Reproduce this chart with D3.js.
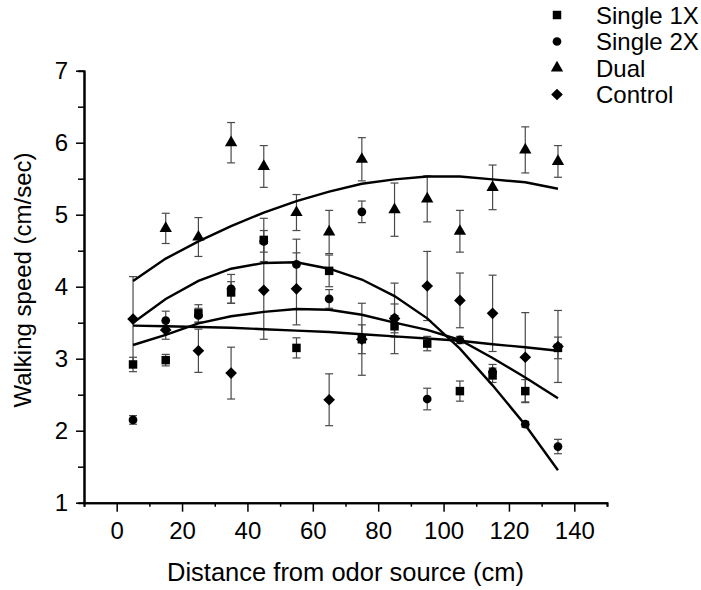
<!DOCTYPE html>
<html lang="en">
<head>
    <meta charset="UTF-8">
    <title>Walking speed</title>
    <script src="https://cdnjs.cloudflare.com/ajax/libs/d3/7.8.5/d3.min.js"></script>
    <style>
        body { margin: 0; background: #fff; }
        text { font-family: "Liberation Sans", Arial, sans-serif; fill: #000; }
    </style>
</head>
<body>
    <div id="wrapper"></div>
    <script>
        // distances (cm) where speed was measured
        const distances = [5, 15, 25, 35, 45, 55, 65, 75, 85, 95, 105, 115, 125, 135]

        // mean walking speed (cm/sec) and error bar half-lengths
        const single1x    = [2.92, 2.98, 3.63, 3.92, 4.65, 3.15, 4.22, 3.27, 3.45, 3.21, 2.55, 2.77, 2.55, 3.15]
        const single1xErr = [0.10, 0.08, 0.12, 0.15, 0.30, 0.14, 0.22, 0.20, 0.15, 0.10, 0.14, 0.10, 0.16, 0.15]
        const single2x    = [2.15, 3.53, 3.60, 3.97, 4.63, 4.31, 3.83, 5.04, 3.56, 2.44, 3.26, 2.82, 2.09, 1.78]
        const single2xErr = [0.06, 0.13, 0.10, 0.20, 0.15, 0.35, 0.13, 0.15, 0.20, 0.15, 0.05, 0.10, 0.04, 0.10]
        const dual        = [null, 4.81, 4.69, 6.00, 5.67, 5.03, 4.76, 5.77, 5.07, 5.22, 4.77, 5.38, 5.90, 5.74]
        const dualErr     = [null, 0.21, 0.27, 0.28, 0.29, 0.25, 0.30, 0.30, 0.37, 0.32, 0.29, 0.31, 0.32, 0.22]
        const control     = [3.55, 3.40, 3.11, 2.80, 3.95, 3.97, 2.43, 3.27, 3.56, 4.01, 3.81, 3.63, 3.02, 3.17]
        const controlErr  = [0.59, 0.13, 0.30, 0.36, 0.68, 0.50, 0.36, 0.50, 0.49, 0.48, 0.38, 0.53, 0.62, 0.50]

        // fitted curves at each distance
        const fitSingle1x = [3.19, 3.33, 3.49, 3.59, 3.65, 3.69, 3.68, 3.61, 3.50, 3.40, 3.26, 3.01, 2.74, 2.45]
        const fitSingle2x = [3.50, 3.83, 4.08, 4.25, 4.33, 4.34, 4.25, 4.10, 3.87, 3.56, 3.14, 2.63, 2.08, 1.45]
        const fitDual     = [4.08, 4.39, 4.63, 4.84, 5.03, 5.19, 5.32, 5.43, 5.49, 5.53, 5.53, 5.49, 5.45, 5.36]
        const fitControl  = [3.46, 3.45, 3.44, 3.43, 3.41, 3.39, 3.37, 3.34, 3.31, 3.28, 3.25, 3.20, 3.16, 3.11]

        const xMajorTicks = [0, 20, 40, 60, 80, 100, 120, 140]
        const xMinorTicks = [-10, 10, 30, 50, 70, 90, 110, 130, 150]
        const yMajorTicks = [1, 2, 3, 4, 5, 6, 7]
        const yMinorTicks = [1.5, 2.5, 3.5, 4.5, 5.5, 6.5]

        const seriesNames = ['Single 1X', 'Single 2X', 'Dual', 'Control']

        const width = 701
        const height = 590
        const margin = { top: 70.7, right: 94, bottom: 87.3, left: 84 }

        const svg = d3.select('#wrapper')
            .append('svg')
                .attr('width', width)
                .attr('height', height)
                .attr('viewBox', `0 0 ${width} ${height}`)

        svg.append('rect').attr('width', width).attr('height', height).attr('fill', '#fff')

        const xScale = d3.scaleLinear()
            .domain([-10, 150])
            .range([margin.left, width - margin.right])

        const yScale = d3.scaleLinear()
            .domain([1, 7])
            .range([height - margin.bottom, margin.top])

        // square diamond (equal width and height), d3's own diamond is too narrow
        const wideDiamond = {
            draw(context, size) {
                const r = Math.sqrt(size / 2)
                context.moveTo(0, -r)
                context.lineTo(r, 0)
                context.lineTo(0, r)
                context.lineTo(-r, 0)
                context.closePath()
            }
        }

        const symbolFor = {
            'Single 1X': d3.symbol().type(d3.symbolSquare).size(72),
            'Single 2X': d3.symbol().type(d3.symbolCircle).size(60),
            'Dual': d3.symbol().type(d3.symbolTriangle).size(66),
            'Control': d3.symbol().type(wideDiamond).size(68),
        }

        const series = [
            { name: 'Control', values: control, err: controlErr, fit: fitControl },
            { name: 'Single 1X', values: single1x, err: single1xErr, fit: fitSingle1x },
            { name: 'Single 2X', values: single2x, err: single2xErr, fit: fitSingle2x },
            { name: 'Dual', values: dual, err: dualErr, fit: fitDual },
        ]

        // error bars first, so markers sit on top
        const capW = 4
        series.forEach(s => {
            const pts = distances.map((d, i) => ({ x: d, y: s.values[i], e: s.err[i] })).filter(p => p.y != null)
            const g = svg.append('g').attr('stroke', '#4a4a4a').attr('stroke-width', 1.2)
            pts.forEach(p => {
                const cx = xScale(p.x)
                const y0 = yScale(p.y - p.e)
                const y1 = yScale(p.y + p.e)
                g.append('line').attr('x1', cx).attr('x2', cx).attr('y1', y0).attr('y2', y1)
                g.append('line').attr('x1', cx - capW).attr('x2', cx + capW).attr('y1', y0).attr('y2', y0)
                g.append('line').attr('x1', cx - capW).attr('x2', cx + capW).attr('y1', y1).attr('y2', y1)
            })
        })

        // fitted lines
        const lineGenerator = d3.line()
            .x((d, i) => xScale(distances[i]))
            .y(d => yScale(d))

        series.forEach(s => {
            svg.append('path')
                .attr('d', lineGenerator(s.fit))
                .attr('fill', 'none')
                .attr('stroke', '#000')
                .attr('stroke-width', 2.4)
        })

        // markers
        series.forEach(s => {
            const pts = distances.map((d, i) => ({ x: d, y: s.values[i] })).filter(p => p.y != null)
            svg.append('g').selectAll('path')
                .data(pts)
                .join('path')
                    .attr('d', symbolFor[s.name]())
                    .attr('transform', p => `translate(${xScale(p.x)},${yScale(p.y)})`)
                    .attr('fill', '#000')
        })

        // axes
        const xAxisY = yScale(1)
        const xMinor = svg.append('g')
            .attr('transform', `translate(0,${xAxisY})`)
            .call(d3.axisBottom(xScale).tickValues(xMinorTicks).tickSize(4).tickFormat(''))
        const xAxis = svg.append('g')
            .attr('transform', `translate(0,${xAxisY})`)
            .call(d3.axisBottom(xScale).tickValues(xMajorTicks).tickSize(9).tickSizeOuter(0)
                .tickPadding(10).tickFormat(d3.format('d')))

        const yMinor = svg.append('g')
            .attr('transform', `translate(${margin.left},0)`)
            .call(d3.axisLeft(yScale).tickValues(yMinorTicks).tickSize(6).tickFormat(''))
        const yAxis = svg.append('g')
            .attr('transform', `translate(${margin.left},0)`)
            .call(d3.axisLeft(yScale).tickValues(yMajorTicks).tickSize(8).tickSizeOuter(0)
                .tickPadding(8).tickFormat(d3.format('d')))

        ;[xMinor, xAxis, yMinor, yAxis].forEach(a => {
            a.selectAll('.domain').attr('stroke', '#000').attr('stroke-width', 2)
            a.selectAll('.tick line').attr('stroke', '#000').attr('stroke-width', 1.5)
        })

        xAxis.selectAll('.tick text').attr('font-size', 24).attr('fill', '#000')
        yAxis.selectAll('.tick text').attr('font-size', 24).attr('fill', '#000')

        // axis titles
        svg.append('text')
            .attr('x', 167)
            .attr('y', 581)
            .attr('font-size', 25.5)
            .text('Distance from odor source (cm)')

        svg.append('text')
            .attr('transform', 'translate(31,280) rotate(-90)')
            .attr('text-anchor', 'middle')
            .attr('font-size', 24)
            .text('Walking speed (cm/sec)')

        // legend
        const legend = svg.append('g').attr('transform', 'translate(557,15)')
        seriesNames.forEach((name, i) => {
            const row = legend.append('g').attr('transform', `translate(0,${i * 26.5})`)
            row.append('path').attr('d', symbolFor[name]()).attr('fill', '#000')
            row.append('text')
                .attr('x', 39)
                .attr('y', 8.5)
                .attr('font-size', 24)
                .text(name)
        })
    </script>
</body>
</html>
